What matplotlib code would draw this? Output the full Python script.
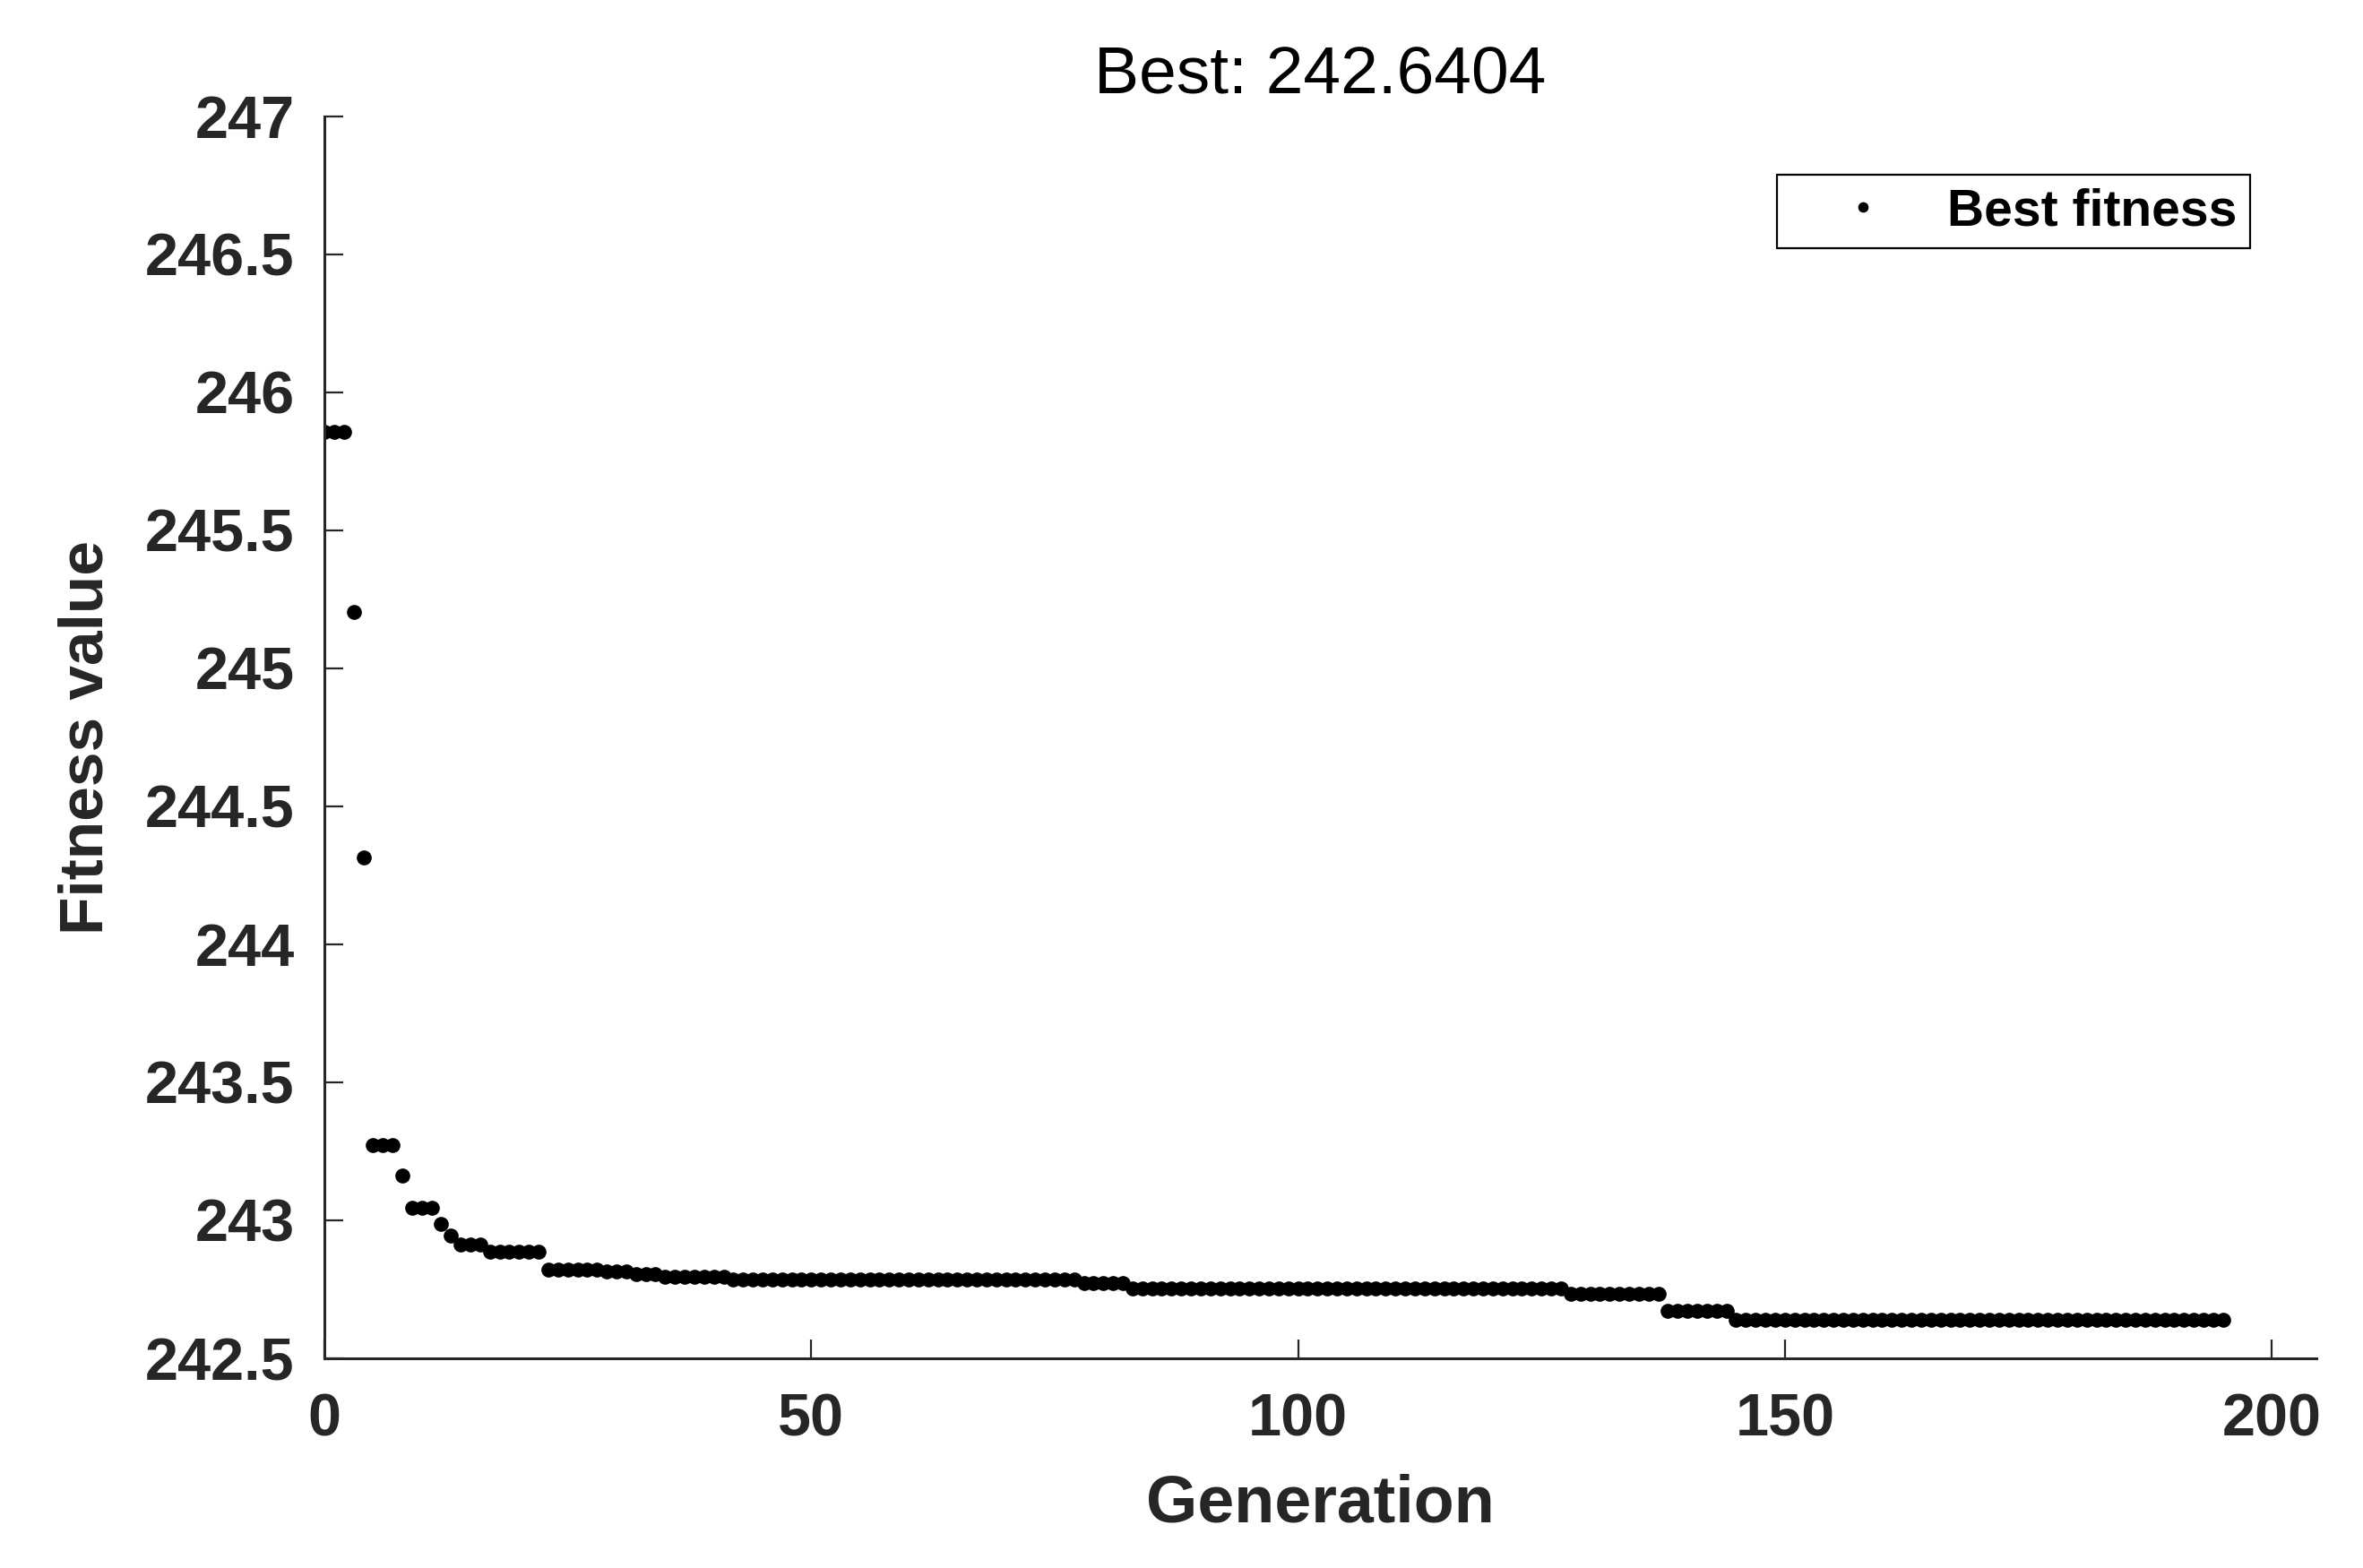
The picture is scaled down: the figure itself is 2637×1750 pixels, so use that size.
import numpy as np
import matplotlib.pyplot as plt

plt.rcParams['font.family'] = ['Liberation Sans', 'DejaVu Sans']

# best fitness per generation, stored as plateaus (value, number of generations)
step_values = [245.856, 245.203, 244.314, 243.272, 243.162, 243.047, 242.987,
               242.946, 242.913, 242.886, 242.821, 242.814, 242.805, 242.794,
               242.787, 242.772, 242.754, 242.733, 242.672, 242.6404]
step_lengths = [3, 1, 1, 3, 1, 3, 1,
                1, 3, 6, 6, 3, 3, 7,
                36, 5, 45, 10, 7, 51]

best = np.repeat(step_values, step_lengths)
gen = np.arange(len(best))

y_ticks = [242.5, 243, 243.5, 244, 244.5, 245, 245.5, 246, 246.5, 247]
x_ticks = [0, 50, 100, 150, 200]

fig = plt.figure(figsize=(13.185, 8.75), dpi=200)
ax = fig.add_axes([0.1373, 0.1337, 0.843, 0.7922])

ax.plot(gen, best, linestyle='none', marker='o', markersize=6,
        markeredgewidth=0, color='black', label='Best fitness')

ax.set_xlim(0, 204.6)
ax.set_ylim(242.5, 247)
ax.set_xticks(x_ticks)
ax.set_yticks(y_ticks)
ax.set_yticklabels([f"{v:g}" for v in y_ticks])

gray = '#262626'
for side in ['top', 'right']:
    ax.spines[side].set_visible(False)
for side in ['left', 'bottom']:
    ax.spines[side].set_color(gray)
    ax.spines[side].set_linewidth(1.1)

ax.tick_params(axis='both', direction='in', length=7.5, width=0.8,
               colors=gray, labelsize=24)
ax.tick_params(axis='x', pad=14)
ax.tick_params(axis='y', pad=12)
for lbl in ax.get_xticklabels() + ax.get_yticklabels():
    lbl.set_fontweight('bold')

ax.set_xlabel('Generation', fontsize=26.5, fontweight='bold', color=gray, labelpad=10)
ax.set_ylabel('Fitness value', fontsize=25, fontweight='bold', color=gray, labelpad=12)
ax.set_title('Best: 242.6404', fontsize=27, pad=9)

leg = ax.legend(loc='upper right', bbox_to_anchor=(0.9667, 0.953),
                borderaxespad=0, fancybox=False, framealpha=1,
                edgecolor='black', handlelength=2.9, handletextpad=0.2,
                borderpad=0.25, markerscale=0.7,
                prop={'weight': 'bold', 'size': 20.5})
leg.get_frame().set_linewidth(0.8)

fig.savefig('out.png', dpi=200)
